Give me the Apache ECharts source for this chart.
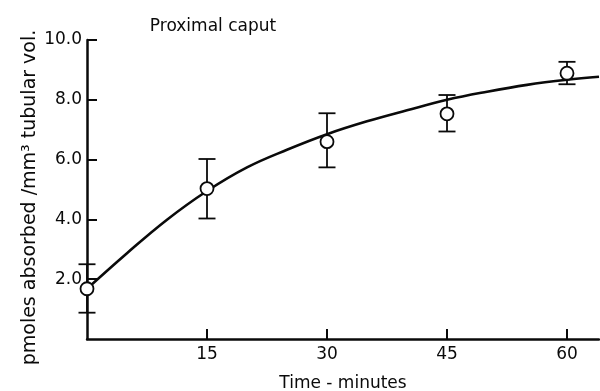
<!DOCTYPE html>
<html>
<head>
<meta charset="utf-8">
<script src="https://cdn.jsdelivr.net/npm/echarts@6/dist/echarts.min.js"></script>
<style>html,body{margin:0;padding:0;background:#fff}#c{width:600px;height:391px}</style>
</head>
<body>
<div id="c"></div>
<script>
var titleText = 'Proximal caput';
var xName = 'Time - minutes';
var yName = 'pmoles absorbed /mm\u00b3 tubular vol.';
var xTicks = [15, 30, 45, 60];
var yTicks = [2, 4, 6, 8, 10];
var times = [0, 15, 30, 45, 60];
var means = [1.68, 5.03, 6.60, 7.53, 8.89];
var upper = [2.50, 6.02, 7.55, 8.16, 9.27];
var lower = [0.88, 4.03, 5.74, 6.94, 8.52];
var curveT = [0, 5, 10, 15, 20, 25, 30, 35, 40, 45, 50, 55, 60, 64];
var curveY = [1.68, 2.87, 3.99, 4.95, 5.74, 6.33, 6.85, 7.28, 7.65, 8.00, 8.27, 8.50, 8.67, 8.77];

var FONT = 'DejaVu Sans';
var INK = '#0a0a0a';
var chart = echarts.init(document.getElementById('c'), null, {renderer: 'canvas'});
var pts = times.map(function (t, i) { return [t, means[i]]; });
var bars = times.map(function (t, i) { return [t, lower[i], upper[i]]; });
var curve = curveT.map(function (t, i) { return [t, curveY[i]]; });

chart.setOption({
  animation: false,
  backgroundColor: '#fff',
  textStyle: {fontFamily: FONT, color: INK},
  title: {
    text: titleText, left: 208, top: 13, textAlign: 'center',
    textStyle: {fontFamily: FONT, fontSize: 17, fontWeight: 'normal', color: INK}
  },
  grid: {left: 87, right: 1, top: 40, bottom: 52, containLabel: false, outerBoundsMode: 'none'},
  xAxis: {
    type: 'value', min: 0, max: 64,
    name: xName, nameLocation: 'middle', nameGap: 36, nameMoveOverlap: false,
    nameTextStyle: {fontFamily: FONT, fontSize: 17, color: INK},
    axisLine: {show: true, lineStyle: {color: INK, width: 2.5}},
    axisTick: {show: true, inside: true, length: 10, customValues: xTicks, lineStyle: {color: INK, width: 2}},
    axisLabel: {customValues: xTicks, fontFamily: FONT, fontSize: 17, color: INK, margin: 7},
    splitLine: {show: false}
  },
  yAxis: {
    type: 'value', min: 0, max: 10,
    name: yName, nameLocation: 'middle', nameGap: 47, nameRotate: 90, nameMoveOverlap: false,
    nameTextStyle: {fontFamily: FONT, fontSize: 19, color: INK, padding: [0, 16, 0, 0]},
    axisLine: {show: true, lineStyle: {color: INK, width: 2.5}},
    axisTick: {show: true, inside: true, length: 10, customValues: yTicks, lineStyle: {color: INK, width: 2}},
    axisLabel: {customValues: yTicks, fontFamily: FONT, fontSize: 17, color: INK, margin: 5,
      formatter: function (v) { return v.toFixed(1); }},
    splitLine: {show: false}
  },
  series: [
    {
      type: 'line', data: curve, smooth: 0.4, showSymbol: false, symbol: 'none', clip: false,
      lineStyle: {color: INK, width: 2.6}, z: 2
    },
    {
      type: 'custom', data: bars, clip: false, z: 3,
      renderItem: function (params, api) {
        var x = api.value(0);
        var lo = api.coord([x, api.value(1)]);
        var hi = api.coord([x, api.value(2)]);
        var hw = 8.5;
        var st = {stroke: INK, lineWidth: 1.8};
        return {type: 'group', children: [
          {type: 'line', shape: {x1: lo[0], y1: lo[1], x2: hi[0], y2: hi[1]}, style: st},
          {type: 'line', shape: {x1: lo[0] - hw, y1: lo[1], x2: lo[0] + hw, y2: lo[1]}, style: st},
          {type: 'line', shape: {x1: hi[0] - hw, y1: hi[1], x2: hi[0] + hw, y2: hi[1]}, style: st}
        ]};
      }
    },
    {
      type: 'scatter', data: pts, symbol: 'circle', symbolSize: 13, clip: false, z: 4,
      itemStyle: {color: '#ffffff', opacity: 1, borderColor: INK, borderWidth: 1.8}
    }
  ]
});
</script>
</body>
</html>
